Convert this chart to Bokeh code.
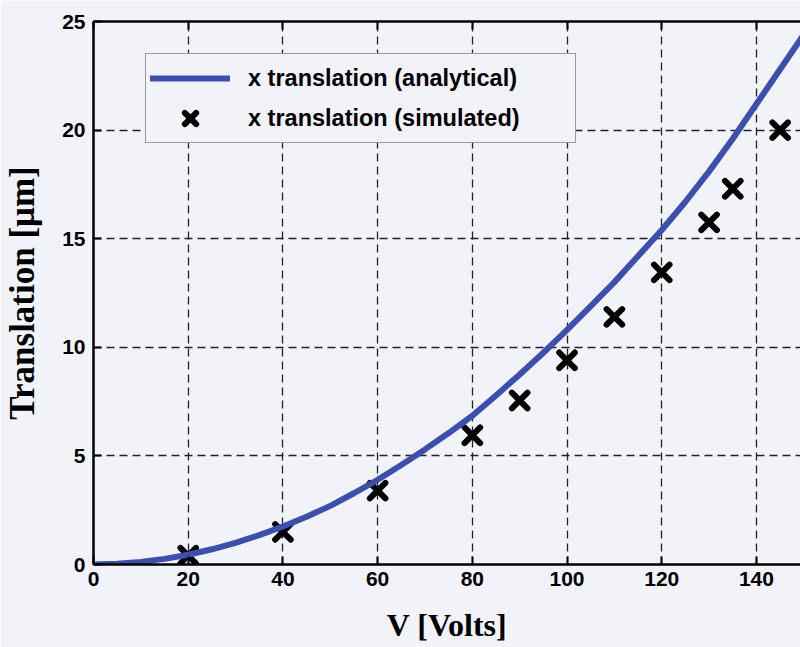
from bokeh.plotting import figure
from bokeh.models import Range1d, LinearAxis, FixedTicker, Legend, LegendItem
from bokeh.embed import file_html
from bokeh.resources import INLINE

# analytical curve
v_analytical = [0, 5, 10, 15, 20, 25, 30, 35, 40, 45, 50, 55, 60, 65, 70, 75,
                80, 85, 90, 95, 100, 105, 110, 115, 120, 125, 130, 135, 140, 145, 150]
x_analytical = [0, 0.03, 0.12, 0.26, 0.45, 0.7, 1.0, 1.35, 1.75, 2.2, 2.7, 3.28, 3.9, 4.58, 5.3, 6.05,
                6.85, 7.78, 8.75, 9.75, 10.8, 11.9, 13.0, 14.2, 15.4, 16.7, 18.1, 19.6, 21.2, 22.8, 24.4]

# simulated points
v_simulated = [20, 40, 60, 80, 90, 100, 110, 120, 130, 135, 145]
x_simulated = [0.41, 1.5, 3.4, 5.95, 7.55, 9.4, 11.4, 13.45, 15.75, 17.3, 20.0]

x_ticks = [0, 20, 40, 60, 80, 100, 120, 140]
y_ticks = [0, 5, 10, 15, 20, 25]

BG = "#f2f2f9"

p = figure(width=800, height=647, output_backend="svg", toolbar_location=None,
           x_range=Range1d(0, 149.3), y_range=Range1d(0, 25),
           min_border_left=91, min_border_right=0, min_border_top=21, min_border_bottom=83)
p.background_fill_color = BG
p.border_fill_color = BG
p.outline_line_color = None

p.xaxis.ticker = FixedTicker(ticks=x_ticks)
p.yaxis.ticker = FixedTicker(ticks=y_ticks)

for ax in (p.xaxis[0], p.yaxis[0]):
    ax.axis_line_color = "black"
    ax.axis_line_width = 2.5
    ax.major_tick_line_color = "black"
    ax.major_tick_line_width = 2
    ax.major_tick_in = 8
    ax.major_tick_out = 0
    ax.minor_tick_line_color = None
    ax.major_label_text_font = "Liberation Sans"
    ax.major_label_text_font_style = "bold"
    ax.major_label_text_font_size = "21px"
    ax.major_label_text_color = "black"
    ax.axis_label_text_font = "Liberation Serif"
    ax.axis_label_text_font_style = "bold"
    ax.axis_label_text_color = "black"

p.xaxis.axis_label = "V [Volts]"
p.yaxis.axis_label = "Translation [\u03bcm]"
p.xaxis.axis_label_text_font_size = "32px"
p.yaxis.axis_label_text_font_size = "35px"
p.xaxis.major_label_standoff = 7
p.yaxis.major_label_standoff = 8
p.xaxis.axis_label_standoff = 18
p.yaxis.axis_label_standoff = 17

top = LinearAxis(ticker=FixedTicker(ticks=x_ticks))
top.axis_line_color = "black"
top.axis_line_width = 2.5
top.major_tick_in = 8
top.major_tick_out = 0
top.major_tick_line_width = 2
top.minor_tick_line_color = None
top.major_label_overrides = {t: "" for t in x_ticks}
top.major_label_standoff = 0
p.add_layout(top, "above")

p.grid.grid_line_color = "#222222"
p.grid.grid_line_dash = "8 5"
p.grid.grid_line_width = 1.3
p.xgrid.ticker = FixedTicker(ticks=x_ticks)
p.ygrid.ticker = FixedTicker(ticks=y_ticks)

sc = p.scatter(v_simulated, x_simulated, marker="x", size=22, line_width=6,
               line_color="black", line_cap="round")
ln = p.line(v_analytical, x_analytical, line_width=6, line_color="#3a4fb0", line_cap="round")

legend = Legend(items=[LegendItem(label="x translation (analytical)", renderers=[ln]),
                       LegendItem(label="x translation (simulated)", renderers=[sc])],
                location=(52, 421))
legend.padding = 4
legend.margin = 0
legend.spacing = 0
legend.glyph_width = 80
legend.glyph_height = 40
legend.label_height = 40
legend.label_width = 323
legend.label_standoff = 18
legend.label_text_font = "Liberation Sans"
legend.label_text_font_style = "bold"
legend.label_text_font_size = "23.5px"
legend.label_text_color = "black"
legend.background_fill_color = BG
legend.background_fill_alpha = 1
legend.border_line_color = "#444444"
legend.border_line_width = 1.2
p.add_layout(legend, "center")

open("out.html", "w").write(file_html(p, INLINE))
